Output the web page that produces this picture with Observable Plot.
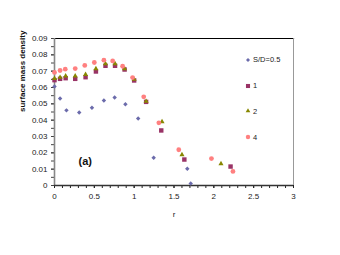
<!DOCTYPE html>
<html>
<head>
<meta charset="utf-8">
<script src="https://cdn.jsdelivr.net/npm/d3@7"></script>
<script src="https://cdn.jsdelivr.net/npm/@observablehq/plot@0.6"></script>
<style>
  html, body { margin: 0; padding: 0; background: #fff; }
  #wrap { position: relative; width: 340px; height: 255px; font-family: "Liberation Sans", Arial, sans-serif; }
  #legend { position: absolute; left: 244px; top: 47px; font-size: 7.5px; color: #222; }
  #legend .item { display: flex; align-items: center; height: 25.8px; }
  #legend svg { margin-right: 1px; }
</style>
</head>
<body>
<div id="wrap"></div>
<script>
// Series names
const seriesNames = ["S/D=0.5", "1", "2", "4"];
const seriesColors = ["#6b6bab", "#993366", "#878700", "#ff8080"];

// S/D = 0.5
const r05 = [0.00, 0.07, 0.15, 0.31, 0.47, 0.62, 0.755, 0.89, 1.05, 1.245, 1.667, 1.71];
const d05 = [0.0606, 0.0533, 0.0460, 0.0447, 0.0476, 0.0520, 0.0539, 0.0498, 0.0410, 0.0170, 0.0102, 0.0012];
// S/D = 1
const r1 = [0.00, 0.07, 0.14, 0.26, 0.39, 0.52, 0.64, 0.76, 0.88, 1.00, 1.15, 1.34, 1.63, 2.21];
const d1 = [0.0645, 0.0653, 0.0657, 0.0653, 0.0663, 0.0698, 0.0733, 0.0733, 0.0710, 0.0643, 0.0512, 0.0337, 0.0159, 0.0116];
// S/D = 2
const r2 = [0.00, 0.07, 0.14, 0.26, 0.39, 0.52, 0.64, 0.76, 0.88, 1.00, 1.15, 1.35, 1.60, 2.09];
const d2 = [0.0655, 0.0662, 0.0670, 0.0670, 0.0680, 0.0715, 0.0745, 0.0745, 0.0715, 0.0650, 0.0515, 0.0390, 0.0188, 0.0133];
// S/D = 4
const r4 = [0.00, 0.07, 0.135, 0.26, 0.38, 0.50, 0.62, 0.73, 0.855, 0.98, 1.12, 1.31, 1.56, 1.97, 2.24];
const d4 = [0.0692, 0.0704, 0.0712, 0.0716, 0.0735, 0.0753, 0.0767, 0.0763, 0.0730, 0.0661, 0.0543, 0.0384, 0.0219, 0.0165, 0.0086];

const xTicks = [0, 0.5, 1, 1.5, 2, 2.5, 3];
const yTicks = [0, 0.01, 0.02, 0.03, 0.04, 0.05, 0.06, 0.07, 0.08, 0.09];
const xMinorTicks = d3.range(0, 31).map(i => i / 10);
const yMinorTicks = d3.range(0, 19).map(i => i * 0.005);

const seriesR = [r05, r1, r2, r4];
const seriesD = [d05, d1, d2, d4];
const seriesSymbols = [d3.symbolDiamond2, d3.symbolSquare, d3.symbolTriangle, d3.symbolCircle];
const seriesRadius = [2.0, 2.5, 1.9, 2.4];

const seriesData = seriesNames.map((s, k) => seriesR[k].map((r, i) => ({ series: s, r, d: seriesD[k][i] })));

const fmt = v => v === 0 ? "0" : String(+v.toFixed(2));

const chart = Plot.plot({
  width: 340,
  height: 255,
  marginLeft: 54,
  marginRight: 47,
  marginTop: 38,
  marginBottom: 70,
  style: { fontFamily: "Liberation Sans, Arial, sans-serif", fontSize: "8px", color: "#222", background: "#fff" },
  x: { domain: [0, 3] },
  y: { domain: [0, 0.09] },
  marks: [
    Plot.frame({ anchor: "top", stroke: "#000", strokeWidth: 1.2 }),
    Plot.frame({ anchor: "right", stroke: "#999", strokeWidth: 1 }),
    Plot.axisY({ ticks: yMinorTicks, tickSize: 3, text: null, stroke: "#444", label: null }),
    Plot.axisY({ ticks: yTicks, tickSize: 3, tickPadding: 4, tickFormat: fmt, stroke: "#444", label: null }),
    Plot.axisX({ ticks: xMinorTicks, tickSize: 3, text: null, stroke: "#222", label: null }),
    Plot.axisX({ ticks: xTicks, tickSize: 3, tickPadding: 5, tickFormat: fmt, stroke: "#222", label: null }),
    Plot.ruleX([0], { stroke: "#888", strokeWidth: 1.6 }),
    Plot.ruleY([0], { stroke: "#333", strokeWidth: 1.4 }),
    ...seriesData.map((sd, k) => Plot.dot(sd, {
      x: "r", y: "d", fill: seriesColors[k], symbol: seriesSymbols[k], r: seriesRadius[k], stroke: "none"
    })),
    Plot.text(["(a)"], { frameAnchor: "bottom-left", dx: 24, dy: -21, fontSize: 11, fontWeight: "bold", fill: "#111" }),
    Plot.text(["surface mass density"], { frameAnchor: "left", dx: -32, rotate: -90, fontSize: 8, fontWeight: "bold", fill: "#111" }),
    Plot.text(["r"], { frameAnchor: "bottom", dy: 31, fontSize: 8, fill: "#222" })
  ]
});

const wrap = document.getElementById("wrap");
wrap.appendChild(chart);

// Legend overlay
const legend = d3.select(wrap).append("div").attr("id", "legend");
seriesNames.forEach((s, i) => {
  const item = legend.append("div").attr("class", "item");
  const svg = item.append("svg").attr("width", 8).attr("height", 8);
  svg.append("path")
    .attr("transform", "translate(4,4)")
    .attr("d", d3.symbol(seriesSymbols[i], Math.PI * seriesRadius[i] * seriesRadius[i] * 0.85)())
    .attr("fill", seriesColors[i]);
  item.append("span").text(s);
});
</script>
</body>
</html>
